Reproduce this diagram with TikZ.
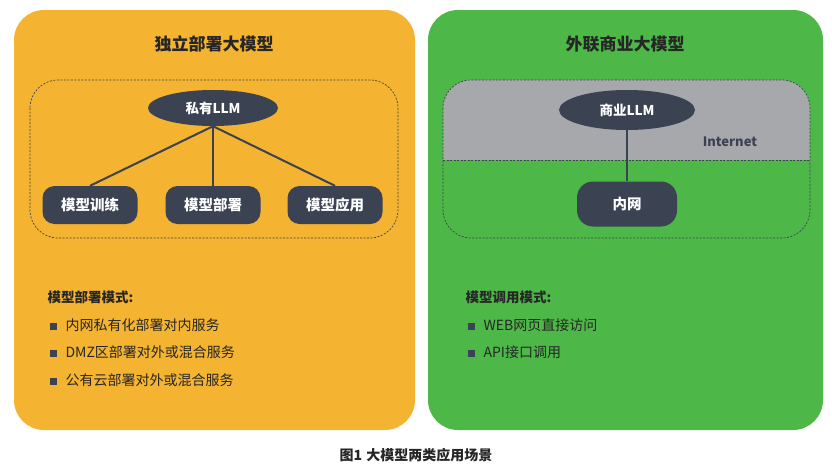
\documentclass[tikz,border=0pt]{standalone}
\usepackage{fontspec}
\setmainfont{Noto Sans CJK SC}
\usetikzlibrary{shapes.geometric}
\definecolor{org}{HTML}{F4B330}
\definecolor{grn}{HTML}{4DB848}
\definecolor{dk}{HTML}{3B4252}
\definecolor{gry}{HTML}{A7A8AB}
\tikzset{
 panel/.style={rounded corners=30pt},
 dbox/.style={draw=dk,dash pattern=on 2pt off 1.5pt,line width=0.7pt,rounded corners=28pt},
 nd/.style={fill=dk,text=white,rounded corners=12pt,minimum height=38pt,font=\bfseries\fontsize{14.5}{14.5}\selectfont},
 ell/.style={ellipse,fill=dk,text=white,font=\bfseries\fontsize{13.5}{13.5}\selectfont},
 ttl/.style={font=\bfseries\fontsize{17}{17}\selectfont,text=black!85},
 hd/.style={font=\bfseries\fontsize{13.5}{13.5}\selectfont,anchor=west,text=black!85},
 it/.style={font=\fontsize{14}{14}\selectfont,anchor=west,text=black!85},
 conn/.style={draw=dk,line width=2pt}
}
\newcommand{\bul}{{\color{dk}\rule{7pt}{7pt}}\hspace{9pt}}
\begin{document}
\begin{tikzpicture}[x=1pt,y=-1pt]
\useasboundingbox (0,0) rectangle (832,466);
\fill[white] (0,0) rectangle (832,466);
\fill[org,panel] (14,10) rectangle (415,430);
\fill[grn,panel] (428,10) rectangle (823,430);
\node[ttl] (t1) at (214,44) {独立部署大模型};
\node[ttl] (t2) at (625,44) {外联商业大模型};
% left
\draw[dbox] (30,80) rectangle (398,238);
\node[ell,minimum width=130pt,minimum height=36pt] (p) at (213,108) {私有LLM};
\node[nd,minimum width=95pt] (a) at (90,205) {模型训练};
\node[nd,minimum width=95pt] (b) at (213,205) {模型部署};
\node[nd,minimum width=95pt] (c) at (335,205) {模型应用};
\draw[conn] (p.south) -- (a.north);
\draw[conn] (p.south) -- (b.north);
\draw[conn] (p.south) -- (c.north);
% right
\fill[gry,rounded corners=28pt] (443,160) -- (443,80) -- (810,80) -- (810,160) [sharp corners] -- cycle;
\fill[gry] (443,130) rectangle (810,160);
\draw[dbox] (443,80) rectangle (810,238);
\draw[draw=dk,dash pattern=on 2pt off 1.5pt,line width=0.7pt] (443,160) -- (810,160);
\node[font=\bfseries\fontsize{13}{13}\selectfont,text=dk] (inet) at (730,142) {Internet};
\node[ell,minimum width=136pt,minimum height=40pt] (s) at (627,110) {商业LLM};
\node[nd,minimum width=100pt,minimum height=45pt,rounded corners=16pt] (n) at (627,204) {内网};
\draw[conn] (s.south) -- (n.north);
% lists
\node[hd] (h1) at (44,297) {模型部署模式:};
\node[it] (l1) at (46,325) {\bul 内网私有化部署对内服务};
\node[it] (l2) at (46,352) {\bul DMZ区部署对外或混合服务};
\node[it] (l3) at (46,380) {\bul 公有云部署对外或混合服务};
\node[hd] (h2) at (462,297) {模型调用模式:};
\node[it] (r1) at (464,325) {\bul WEB网页直接访问};
\node[it] (r2) at (464,352) {\bul API接口调用};
\node[font=\bfseries\fontsize{14}{14}\selectfont,text=black!85] (cap) at (416,455) {图1\hspace{4pt}大模型两类应用场景};
\end{tikzpicture}
\end{document}
